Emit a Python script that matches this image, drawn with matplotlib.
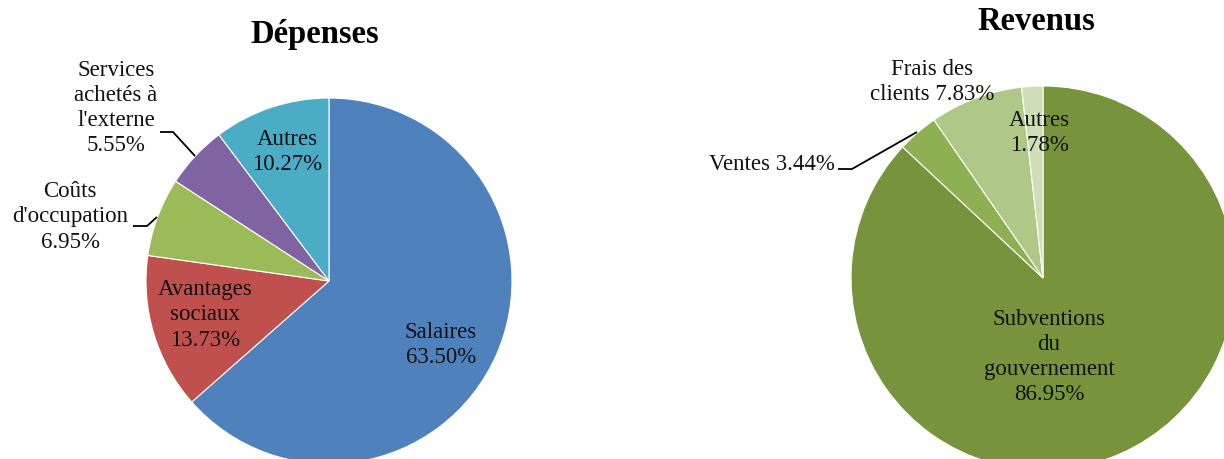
import matplotlib
matplotlib.use("Agg")
import matplotlib.pyplot as plt

# ---- data ----
dep_labels = ["Salaires", "Avantages\nsociaux", "Coûts\nd'occupation",
              "Services\nachetés à\nl'externe", "Autres"]
dep_values = [63.50, 13.73, 6.95, 5.55, 10.27]
dep_colors = ["#4F81BD", "#C0504D", "#9BBB59", "#8064A2", "#4BACC6"]

rev_labels = ["Subventions\ndu\ngouvernement", "Ventes", "Frais des\nclients", "Autres"]
rev_values = [86.95, 3.44, 7.83, 1.78]
rev_colors = ["#77933C", "#8FB052", "#AFC888", "#D0DDB7"]

W, H = 1224, 460
plt.rcParams["font.family"] = ["Liberation Serif", "DejaVu Serif"]
fig = plt.figure(figsize=(W / 100, H / 100), dpi=100)
ax = fig.add_axes([0, 0, 1, 1])

FS = 16.5
TC = "#111111"
LS = 1.27

def py(y):
    return H - y

wp = dict(edgecolor="white", linewidth=0.8)
ax.pie(dep_values, colors=dep_colors, startangle=90, counterclock=False,
       center=(329, py(282)), radius=183, wedgeprops=wp, frame=True)
ax.pie(rev_values, colors=rev_colors, startangle=90, counterclock=False,
       center=(1043, py(279)), radius=192, wedgeprops=wp, frame=True)
ax.set_xlim(0, W)
ax.set_ylim(0, H)
ax.set_aspect("equal")
ax.axis("off")

# titles
ax.text(315, py(34), "Dépenses", ha="center", va="center", fontsize=23.5,
        fontweight="bold", color="black")
ax.text(1036, py(21), "Revenus", ha="center", va="center", fontsize=23.5,
        fontweight="bold", color="black")

def lab(x, y, s):
    ax.text(x, py(y), s, ha="center", va="center", fontsize=FS, color=TC,
            linespacing=LS)

# Dépenses labels
dep_pos = [(441, 345), (205, 315), (70, 217), (116, 108), (287, 152)]
for (x, y), l, v in zip(dep_pos, dep_labels, dep_values):
    lab(x, y, f"{l}\n{v:.2f}%")

# Revenus labels
lab(1049, 357, f"{rev_labels[0]}\n{rev_values[0]:.2f}%")
lab(772, 164, f"{rev_labels[1]} {rev_values[1]:.2f}%")
lab(932, 82, f"Frais des\nclients {rev_values[2]:.2f}%")
lab(1039, 133, f"{rev_labels[3]}\n{rev_values[3]:.2f}%")

# leader lines
def leader(pts):
    ax.plot([p[0] for p in pts], [py(p[1]) for p in pts], color="black", lw=1.3,
            solid_capstyle="butt")

leader([(160, 133), (173, 133), (195, 157)])
leader([(133, 227), (147, 227), (157, 218)])
leader([(838, 170), (852, 170), (917, 133)])

fig.savefig("out.png", dpi=100, facecolor="white")
